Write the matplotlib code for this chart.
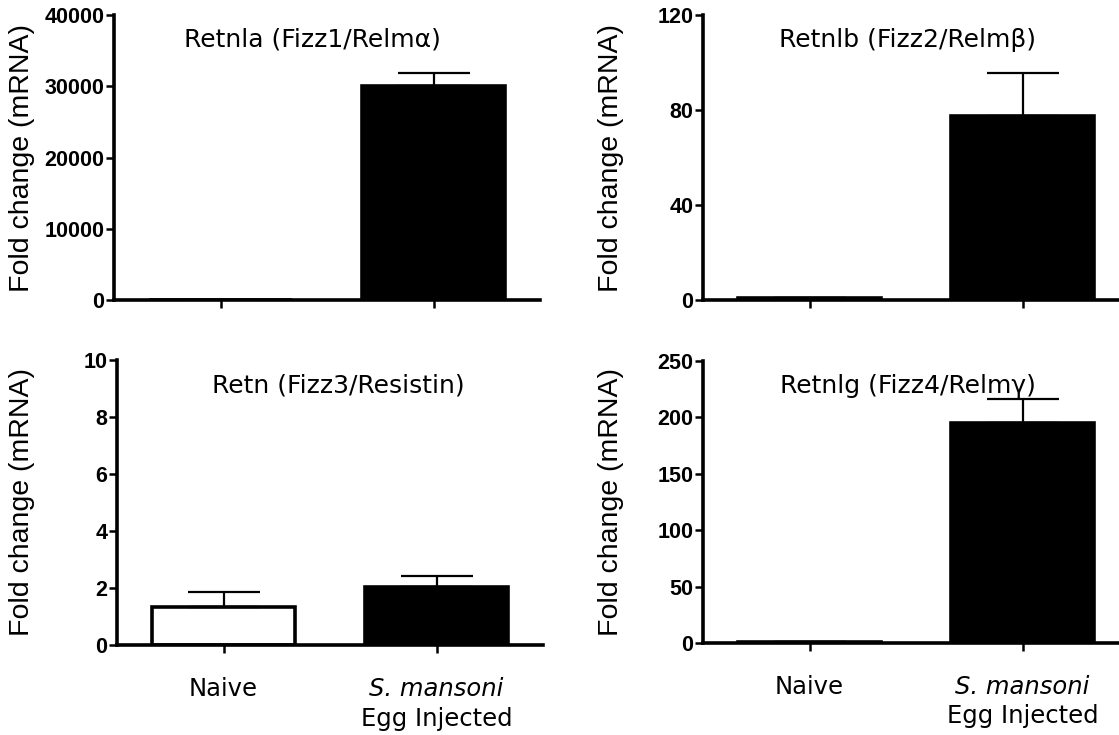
import matplotlib
matplotlib.use("Agg")
import matplotlib.pyplot as plt

groups = ["Naive", "S. mansoni", "Egg Injected"]
titles = ["Retnla (Fizz1/Relm\u03b1)", "Retnlb (Fizz2/Relm\u03b2)",
          "Retn (Fizz3/Resistin)", "Retnlg (Fizz4/Relm\u03b3)"]
means_retnla = [1.0, 30000.0]
sem_retnla = [0.0, 1800.0]
means_retnlb = [1.0, 77.5]
sem_retnlb = [0.0, 18.0]
means_retn = [1.32, 2.03]
sem_retn = [0.54, 0.39]
means_retnlg = [1.0, 195.0]
sem_retnlg = [0.0, 21.0]
yticks_retnla = [0, 10000, 20000, 30000, 40000]
yticks_retnlb = [0, 40, 80, 120]
yticks_retn = [0, 2, 4, 6, 8, 10]
yticks_retnlg = [0, 50, 100, 150, 200, 250]
ylabel = "Fold change (mRNA)"

W, H = 1119, 735
fig = plt.figure(figsize=(W / 100, H / 100), dpi=100)

def rect(x0, x1, y_top, y_bot):
    return [x0 / W, 1 - y_bot / H, (x1 - x0) / W, (y_bot - y_top) / H]

panels = [
    (rect(114, 540, 15, 300), means_retnla, sem_retnla, yticks_retnla, titles[0], 0.466, False, 35),
    (rect(703, 1129, 15, 300), means_retnlb, sem_retnlb, yticks_retnlb, titles[1], 0.48, False, 624),
    (rect(117, 543, 360, 645), means_retn, sem_retn, yticks_retn, titles[2], 0.52, True, 35),
    (rect(703, 1129, 361, 643), means_retnlg, sem_retnlg, yticks_retnlg, titles[3], 0.48, True, 624),
]

title_font = "DejaVu Sans"
tick_font = "Liberation Sans"

for pos, means, sems, yt, title, tx, show_x, lab_x in panels:
    ax = fig.add_axes(pos)
    x = list(range(len(means)))
    ax.bar(x, means, width=0.67, color=["white", "black"], edgecolor="black",
           linewidth=2.6, zorder=2)
    ax.errorbar(x, means, yerr=[[0] * len(sems), sems], fmt="none", ecolor="black",
                elinewidth=1.6, capsize=26, capthick=1.6, zorder=3)
    ax.set_xlim(-0.5, 1.5)
    ax.set_ylim(yt[0], yt[-1])
    ax.set_yticks(yt)
    ax.set_yticklabels([str(v) for v in yt], fontfamily=tick_font,
                       fontweight="bold", fontsize=15.5)
    ax.set_xticks(x)
    ax.set_xticklabels([])
    for s in ["top", "right"]:
        ax.spines[s].set_visible(False)
    for s in ["left", "bottom"]:
        ax.spines[s].set_linewidth(2.6)
        ax.spines[s].set_capstyle("projecting")
    ax.tick_params(axis="both", direction="out", length=6, width=1.8, pad=1)
    ax.set_ylabel(ylabel, fontfamily=tick_font, fontsize=20.5)
    ax.yaxis.set_label_coords((lab_x - pos[0] * W) / (pos[2] * W), 0.5)
    ax.text(tx, 1 - 25 / 285, title, transform=ax.transAxes, ha="center",
            va="center", fontfamily=title_font, fontsize=18)
    if show_x:
        tr = ax.get_xaxis_transform()
        ax.text(x[0], -0.155, groups[0], transform=tr, ha="center", va="center",
                fontfamily=title_font, fontsize=17.5)
        ax.text(x[1], -0.155, groups[1], transform=tr, ha="center", va="center",
                fontfamily=title_font, fontsize=17.5, fontstyle="italic")
        ax.text(x[1], -0.26, groups[2], transform=tr, ha="center", va="center",
                fontfamily=title_font, fontsize=17.5)

fig.savefig("out.png", dpi=100)
